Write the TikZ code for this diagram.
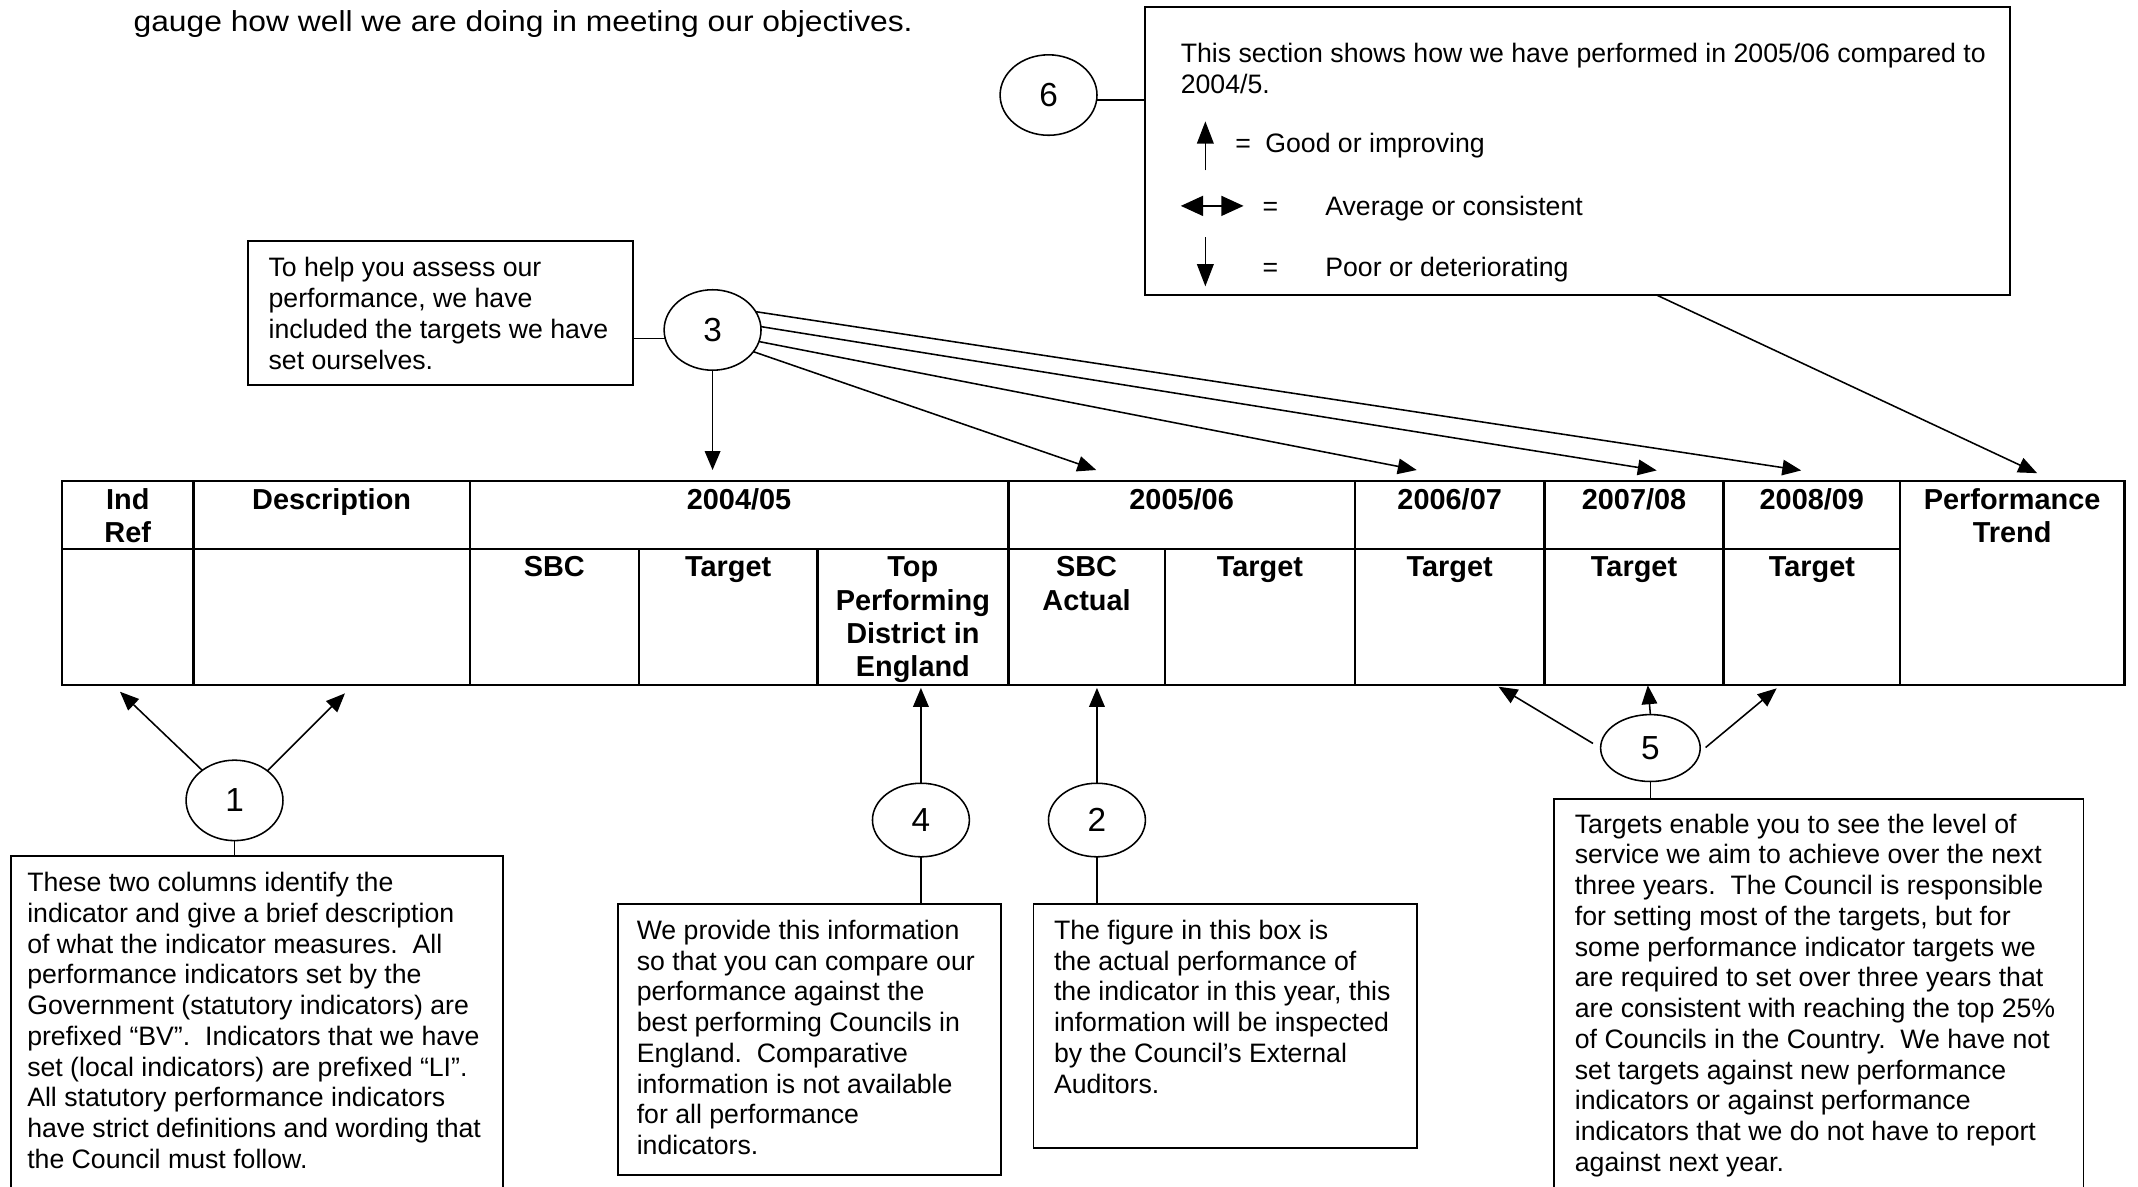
\documentclass[tikz,border=0pt]{standalone}
\usepackage{fontspec}
\setmainfont{Liberation Sans}
\newfontfamily\widefont[FakeStretch=1.1]{Liberation Sans}
\usetikzlibrary{arrows.meta,shapes.geometric,fit}
\frenchspacing
\newcommand\bodytxt[1]{\parbox[t]{400pt}{\fontsize{12}{13.83}\selectfont\raggedright #1}}
\newcommand\hdrtxt[1]{\parbox[t]{100pt}{\centering\fontsize{13}{15.03}\selectfont\bfseries #1}}
\begin{document}
\begin{tikzpicture}[x=0.6135pt,y=-0.6135pt,
  every node/.style={inner sep=0pt, outer sep=0pt, font=\fontsize{12}{13.83}\selectfont},
  boxst/.style={draw, line width=0.8pt, inner sep=0pt},
  numc/.style={draw, ellipse, line width=0.7pt, minimum width=43.6pt, minimum height=36.2pt, font=\fontsize{15}{17}\selectfont},
  numm/.style={numc, minimum height=33.1pt},
  nums/.style={numc, minimum width=44.8pt, minimum height=30.1pt},
  txt/.style={anchor=base west},
  hdr/.style={anchor=base},
  arr/.style={line width=0.7pt, -{Triangle[length=8.5pt,width=7pt]}},
  legup/.style={line width=0.7pt, -{Triangle[length=10pt,width=7.5pt]}},
  legboth/.style={line width=0.7pt, {Triangle[length=10pt,width=9pt]}-{Triangle[length=10pt,width=9pt]}},
  lnk/.style={line width=0.7pt},
  gridline/.style={line width=1.1pt}
]
\useasboundingbox (0,0) rectangle (1568,870);
\clip (0,0) rectangle (1568,870);

% top line of text
\node[txt, font=\widefont\fontsize{13}{15}\selectfont] (toptext) at (98,23) {gauge how well we are doing in meeting our objectives.};

% ---------- table ----------
\draw[gridline] (45.5,352.8) rectangle (1558,502.4);
\draw[gridline] (45.5,402.6) -- (1393.4,402.6);
\foreach \xx in {142,344.5,739.5,993.7,1132.6,1264.1,1393.4}
  \draw[gridline] (\xx,352.8) -- (\xx,502.4);
\foreach \xx in {468.5,599.5,854.2}
  \draw[gridline] (\xx,402.6) -- (\xx,502.4);

\node[hdr] (hInd) at (93.7,373.5) {\hdrtxt{Ind\\Ref}};
\node[hdr] (hDesc) at (243.2,373.5) {\hdrtxt{Description}};
\node[hdr] (hY1) at (542,373.5) {\hdrtxt{2004/05}};
\node[hdr] (hY2) at (866.6,373.5) {\hdrtxt{2005/06}};
\node[hdr] (hY3) at (1063.2,373.5) {\hdrtxt{2006/07}};
\node[hdr] (hY4) at (1198.4,373.5) {\hdrtxt{2007/08}};
\node[hdr] (hY5) at (1328.8,373.5) {\hdrtxt{2008/09}};
\node[hdr] (hTrend) at (1475.7,373.5) {\hdrtxt{Performance\\Trend}};
\node[hdr] (sSBC) at (406.5,423) {\hdrtxt{SBC}};
\node[hdr] (sT1) at (534,423) {\hdrtxt{Target}};
\node[hdr] (sTop) at (669.5,423) {\hdrtxt{Top\\Performing\\District in\\England}};
\node[hdr] (sAct) at (796.9,423) {\hdrtxt{SBC\\Actual}};
\node[hdr] (sT2) at (924,423) {\hdrtxt{Target}};
\node[hdr] (sT3) at (1063.2,423) {\hdrtxt{Target}};
\node[hdr] (sT4) at (1198.4,423) {\hdrtxt{Target}};
\node[hdr] (sT5) at (1328.8,423) {\hdrtxt{Target}};

% ---------- boxes ----------
\node[boxst, fit={(840,5) (1474,216.4)}] (b6) {};
\node[boxst, fit={(182,177) (464,282.5)}] (b3) {};
\node[boxst, fit={(8,628) (369,900)}] (b1) {};
\node[boxst, fit={(453,663) (734,862)}] (b4) {};
\node[boxst, fit={(758,663) (1039,842)}] (b2) {};
\node[boxst, fit={(1139.5,586) (1528,900)}] (b5) {};

% box 6 contents
\node[txt] (t6) at (866,46) {\bodytxt{This section shows how we have performed in 2005/06 compared to\\2004/5.}};
\draw[legup] (884,125) -- (884,89);
\node[txt] (eq1) at (906,112) {=};
\node[txt] (lg1) at (928,112) {Good or improving};
\draw[legboth] (866,151) -- (912,151);
\node[txt] (eq2) at (926,158) {=};
\node[txt] (lg2) at (972,158) {Average or consistent};
\draw[legup] (884,174) -- (884,210);
\node[txt] (eq3) at (926,203) {=};
\node[txt] (lg3) at (972,203) {Poor or deteriorating};

% box texts
\node[txt] (t3) at (197,203) {\bodytxt{To help you assess our\\performance, we have\\included the targets we have\\set ourselves.}};
\node[txt] (t1) at (20,654) {\bodytxt{These two columns identify the\\indicator and give a brief description\\of what the indicator measures.~ All\\performance indicators set by the\\Government (statutory indicators) are\\prefixed “BV”.~ Indicators that we have\\set (local indicators) are prefixed “LI”.\\All statutory performance indicators\\have strict definitions and wording that\\the Council must follow.}};
\node[txt] (t4) at (467,689) {\bodytxt{We provide this information\\so that you can compare our\\performance against the\\best performing Councils in\\England.~ Comparative\\information is not available\\for all performance\\indicators.}};
\node[txt] (t2) at (773,689) {\bodytxt{The figure in this box is\\the actual performance of\\the indicator in this year, this\\information will be inspected\\by the Council’s External\\Auditors.}};
\node[txt] (t5) at (1155,611) {\bodytxt{Targets enable you to see the level of\\service we aim to achieve over the next\\three years.~ The Council is responsible\\for setting most of the targets, but for\\some performance indicator targets we\\are required to set over three years that\\are consistent with reaching the top 25\%\\of Councils in the Country.~ We have not\\set targets against new performance\\indicators or against performance\\indicators that we do not have to report\\against next year.}};

% ---------- numbered ovals ----------
\node[numc] (c6) at (769,69.7) {6};
\node[numc] (c3) at (522.6,242) {3};
\node[numc] (c1) at (172,587) {1};
\node[numm] (c4) at (675.4,601.4) {4};
\node[numm] (c2) at (804.5,601.4) {2};
\node[nums] (c5) at (1210.4,548.6) {5};

% arrow targets
\coordinate (t3a) at (522.6,344.7);
\coordinate (t3b) at (804,344.7);
\coordinate (t3c) at (1039,344.7);
\coordinate (t3d) at (1215,345);
\coordinate (t3e) at (1321,345);
\coordinate (p6) at (1215,216.4);
\coordinate (t6a) at (1494,347);
\coordinate (t1a) at (88,507.3);
\coordinate (t1b) at (253,508.5);
\coordinate (t4a) at (675.4,504.5);
\coordinate (t2a) at (804.5,504.5);
\coordinate (t5a) at (1099,503.6);
\coordinate (t5b) at (1208.5,502.6);
\coordinate (t5c) at (1303,504.8);

% ---------- connectors ----------
\draw[lnk] (c6.-6) -- (c6.-6 -| b6.west);
\draw[arr] (p6) -- (t6a);

\draw[lnk] (b3.east |- c3.190) -- (c3.190);
\draw[arr] (c3.south) -- (t3a);
\draw[arr] (c3.-28) -- (t3b);
\draw[arr] (c3.-14) -- (t3c);
\draw[arr] (c3.4) -- (t3d);
\draw[arr] (c3.23) -- (t3e);

\draw[arr] (c1.137) -- (t1a);
\draw[arr] (c1.42) -- (t1b);
\draw[lnk] (c1.south) -- (c1.south |- b1.north);

\draw[arr] (c4.north) -- (t4a);
\draw[lnk] (c4.south) -- (c4.south |- b4.north);

\draw[arr] (c2.north) -- (t2a);
\draw[lnk] (c2.south) -- (c2.south |- b2.north);

\draw[arr, shorten <=4pt] (c5.180) -- (t5a);
\draw[arr] (c5.north) -- (t5b);
\draw[arr, shorten <=3.4pt] (c5.-5) -- (t5c);
\draw[lnk] (c5.south) -- (c5.south |- b5.north);
\end{tikzpicture}
\end{document}
